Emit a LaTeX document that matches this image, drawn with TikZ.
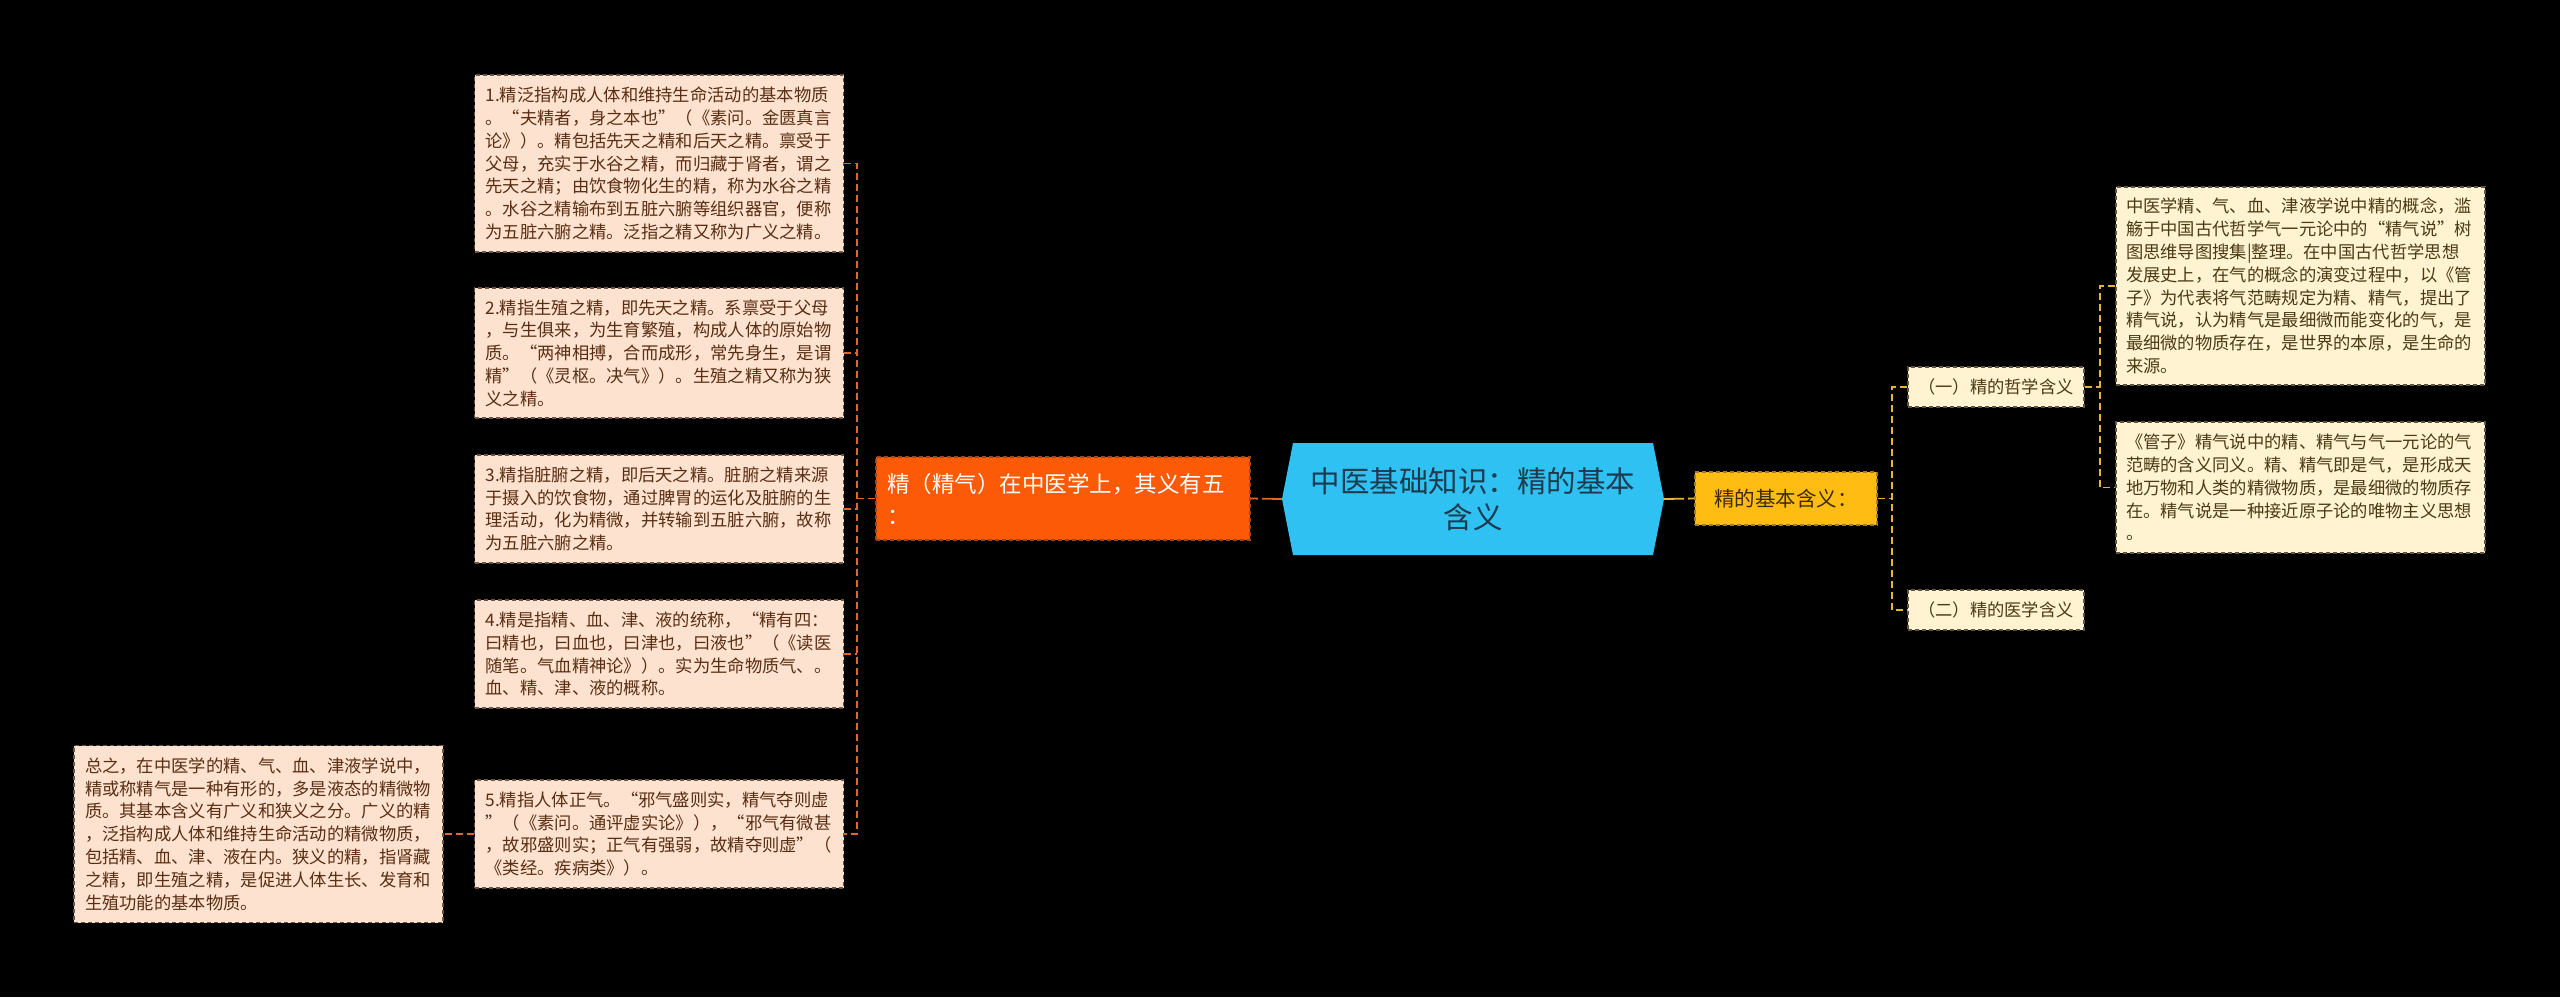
\documentclass[tikz,border=0pt]{standalone}
\usepackage{fontspec}
\setmainfont{Noto Sans CJK SC}
\definecolor{peach}{HTML}{FDE2D0}
\definecolor{lbord}{HTML}{6E5446}
\definecolor{ltext}{HTML}{5A2E12}
\definecolor{oline}{HTML}{E0662A}
\definecolor{ofill}{HTML}{FC5A06}
\definecolor{hexblue}{HTML}{2FC1F2}
\definecolor{hextext}{HTML}{1B3B4F}
\definecolor{yfill}{HTML}{FFBC12}
\definecolor{ytext}{HTML}{3A2A05}
\definecolor{cream}{HTML}{FFF3D2}
\definecolor{ctext}{HTML}{4B3A12}
\definecolor{cbord}{HTML}{5E5440}
\definecolor{yline}{HTML}{E5B43A}
\tikzset{
  lbox/.style={draw=lbord, dash pattern=on 4pt off 3pt, line width=1.2pt, fill=peach, text=ltext,
    font=\fontsize{17.3pt}{22.8pt}\selectfont, align=left, inner xsep=11pt, inner ysep=0pt, text width=347pt},
  rbox/.style={draw=cbord, dash pattern=on 4pt off 3pt, line width=1.2pt, fill=cream, text=ctext,
    font=\fontsize{17.3pt}{22.8pt}\selectfont, align=left, inner xsep=10pt, inner ysep=0pt, text width=349pt},
  pbox/.style={draw=cbord, dash pattern=on 4pt off 3pt, line width=1.2pt, fill=cream, text=ctext,
    font=\fontsize{17.3pt}{20pt}\selectfont, align=center, inner sep=0pt, minimum width=176pt, minimum height=40pt},
  obox/.style={draw=oline!70!black, dash pattern=on 4pt off 3pt, line width=1.2pt, fill=ofill, text=white,
    font=\fontsize{22.5pt}{32pt}\selectfont, align=left, inner xsep=11pt, inner ysep=0pt, text width=352pt},
  ybox/.style={draw=yline!70!black, dash pattern=on 4pt off 3pt, line width=1.2pt, fill=yfill, text=ytext,
    font=\fontsize{20.5pt}{24pt}\selectfont, align=center, inner sep=0pt, minimum width=182pt, minimum height=53pt},
  hexnode/.style={text=hextext, font=\fontsize{29.5pt}{36pt}\selectfont, align=center, inner sep=0pt,
    minimum width=382pt, minimum height=112pt},
  oconn/.style={draw=oline, line width=1.8pt, dash pattern=on 7pt off 4pt},
  yconn/.style={draw=yline, line width=1.8pt, dash pattern=on 7pt off 4pt},
}
\begin{document}
\begin{tikzpicture}[x=1pt,y=-1pt]
\useasboundingbox (0,0) rectangle (2560,997);
\fill[black] (0,0) rectangle (2560,997);

% left boxes
\node[lbox, minimum height=177pt] (b1) at (659,163.5) {1.精泛指构成人体和维持生命活动的基本物质\\。“夫精者，身之本也”（《素问。金匮真言\\论》）。精包括先天之精和后天之精。禀受于\\父母，充实于水谷之精，而归藏于肾者，谓之\\先天之精；由饮食物化生的精，称为水谷之精\\。水谷之精输布到五脏六腑等组织器官，便称\\为五脏六腑之精。泛指之精又称为广义之精。};
\node[lbox, minimum height=130pt] (b2) at (659,353) {2.精指生殖之精，即先天之精。系禀受于父母\\，与生俱来，为生育繁殖，构成人体的原始物\\质。“两神相搏，合而成形，常先身生，是谓\\精”（《灵枢。决气》）。生殖之精又称为狭\\义之精。};
\node[lbox, minimum height=108pt] (b3) at (659,509) {3.精指脏腑之精，即后天之精。脏腑之精来源\\于摄入的饮食物，通过脾胃的运化及脏腑的生\\理活动，化为精微，并转输到五脏六腑，故称\\为五脏六腑之精。};
\node[lbox, minimum height=108pt] (b4) at (659,654) {4.精是指精、血、津、液的统称，“精有四：\\曰精也，曰血也，曰津也，曰液也”（《读医\\随笔。气血精神论》）。实为生命物质气、。\\血、精、津、液的概称。};
\node[lbox, minimum height=108pt] (b5) at (659,834) {5.精指人体正气。“邪气盛则实，精气夺则虚\\”（《素问。通评虚实论》），“邪气有微甚\\，故邪盛则实；正气有强弱，故精夺则虚”（\\《类经。疾病类》）。};
\node[lbox, minimum height=177pt] (sum) at (258.5,834) {总之，在中医学的精、气、血、津液学说中，\\精或称精气是一种有形的，多是液态的精微物\\质。其基本含义有广义和狭义之分。广义的精\\，泛指构成人体和维持生命活动的精微物质，\\包括精、血、津、液在内。狭义的精，指肾藏\\之精，即生殖之精，是促进人体生长、发育和\\生殖功能的基本物质。};

% centre
\node[obox, minimum height=83pt] (orange) at (1063,498.5) {精（精气）在中医学上，其义有五\\：};
\fill[hexblue] (1293,443) -- (1653,443) -- (1664,499) -- (1653,555) -- (1293,555) -- (1282,499) -- cycle;
\node[hexnode] (hex) at (1473,499) {中医基础知识：精的基本\\含义};
\node[ybox] (yellow) at (1786,498.5) {精的基本含义：};

% right
\node[pbox] (p1) at (1996,387) {（一）精的哲学含义};
\node[pbox] (p2) at (1996,610) {（二）精的医学含义};
\node[rbox, minimum height=198pt] (A) at (2300.5,286) {中医学精、气、血、津液学说中精的概念，滥\\觞于中国古代哲学气一元论中的“精气说”树\\图思维导图搜集|整理。在中国古代哲学思想\\发展史上，在气的概念的演变过程中，以《管\\子》为代表将气范畴规定为精、精气，提出了\\精气说，认为精气是最细微而能变化的气，是\\最细微的物质存在，是世界的本原，是生命的\\来源。};
\node[rbox, minimum height=131pt] (B) at (2300.5,487.5) {《管子》精气说中的精、精气与气一元论的气\\范畴的含义同义。精、精气即是气，是形成天\\地万物和人类的精微物质，是最细微的物质存\\在。精气说是一种接近原子论的唯物主义思想\\。};

% connectors
\coordinate (lt) at (857,0);
\coordinate (rt1) at (1892,0);
\coordinate (rt2) at (2100,0);
\draw[oconn] (b1.east) -- (b1.east -| lt) -- (b5.east -| lt) -- (b5.east);
\draw[oconn] (b2.east) -- (b2.east -| lt);
\draw[oconn] (b3.east) -- (b3.east -| lt);
\draw[oconn] (b4.east) -- (b4.east -| lt);
\draw[oconn] (orange.west) -- (orange.west -| lt);
\draw[oconn] (b5.west) -- (b5.west -| sum.east);
\draw[oconn, dash pattern=on 20pt off 4pt] (hex.west) -- (orange.east);
\draw[yconn, dash pattern=on 20pt off 4pt] (hex.east) -- (yellow.west);
\draw[yconn] (p1.west) -- (p1.west -| rt1) -- (p2.west -| rt1) -- (p2.west);
\draw[yconn] (yellow.east) -- (yellow.east -| rt1);
\draw[yconn] (A.west) -- (A.west -| rt2) -- (B.west -| rt2) -- (B.west);
\draw[yconn] (p1.east) -- (p1.east -| rt2);
\end{tikzpicture}
\end{document}
